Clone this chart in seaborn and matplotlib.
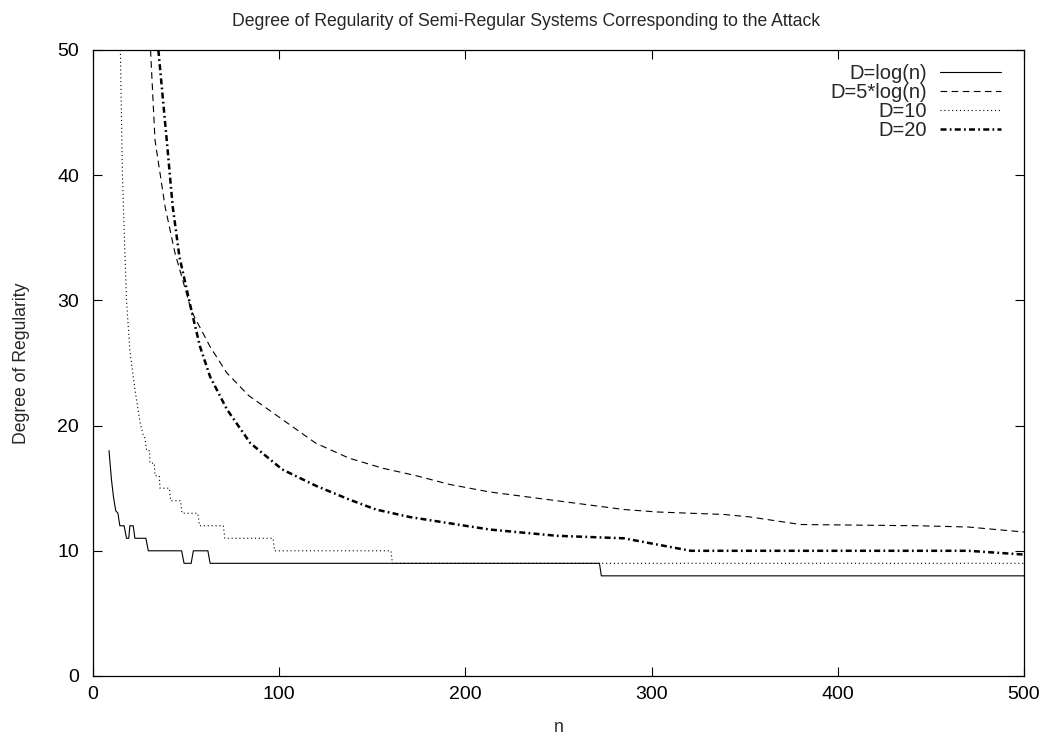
import numpy as np
import pandas as pd
import matplotlib
matplotlib.use("Agg")
import matplotlib.pyplot as plt
import seaborn as sns

# values
log_n = [8.6, 9.9, 11.0, 12.2, 13.4, 14.4, 16.7, 18.0, 19.2, 19.8, 21.6, 22.5, 28.4, 29.7,
         47.6, 48.9, 52.7, 53.9, 61.7, 62.9, 272.0, 273.0, 500.0]
log_y = [18, 15.7, 14.3, 13.2, 13, 12, 12, 11, 11, 12, 12, 11, 11, 10,
         10, 9, 9, 10, 10, 9, 9, 8, 8]

five_log_n = [30.9, 33.3, 38.7, 44.0, 53.0, 62.9, 71.9, 83.6, 101.6, 119.6, 137.5, 155.5,
              173.5, 191.5, 213.0, 249.0, 285.0, 303.0, 339.0, 353.0, 380.0, 443.0, 470.0, 500.0]
five_log_y = [50, 42.8, 37.5, 33.8, 29.1, 26.3, 24.2, 22.4, 20.5, 18.6, 17.4, 16.6,
              16.0, 15.3, 14.7, 14.0, 13.3, 13.1, 12.9, 12.7, 12.1, 12.0, 11.9, 11.5]

d10_n = [14.7, 15.8, 17.1, 18.0, 19.8, 22.5, 25.2, 27.0, 27.9, 28.8, 30.4, 30.6, 32.9, 33.3,
         35.6, 36.0, 41.0, 41.7, 47.0, 47.8, 56.3, 57.2, 70.0, 70.8, 96.7, 97.5, 160.0, 160.8, 500.0]
d10_y = [50, 40, 34, 30, 26, 22.9, 20.3, 19.2, 19, 18, 18, 17, 17, 16,
         16, 15, 15, 14, 14, 13, 13, 12, 12, 11, 11, 10, 10, 9, 9]

d20_n = [35.1, 39.6, 42.8, 46.4, 53.0, 57.5, 62.9, 71.9, 84.5, 101.6, 119.6, 137.5, 151.9,
         170.0, 200.0, 213.0, 249.0, 285.0, 303.0, 321.0, 357.0, 470.0, 500.0]
d20_y = [50, 42.8, 37.5, 33.5, 29.1, 26.3, 23.9, 21.3, 18.6, 16.5, 15.2, 14.1, 13.3,
         12.7, 12.0, 11.7, 11.2, 11.0, 10.5, 10.0, 10.0, 10.0, 9.7]

series = [
    ("D=log(n)", log_n, log_y, dict(lw=0.8)),
    ("D=5*log(n)", five_log_n, five_log_y, dict(lw=0.8, dashes=(6, 4))),
    ("D=10", d10_n, d10_y, dict(lw=0.8, dashes=(1, 2.5))),
    ("D=20", d20_n, d20_y, dict(lw=1.8, dashes=(2.4, 1.3, 0.7, 1.3))),
]

sns.set_style("ticks")
plt.rcParams["font.family"] = ["Liberation Sans", "DejaVu Sans"]

W, H = 1053, 738
fig = plt.figure(figsize=(W / 100, H / 100), dpi=100)
# plot box: left 93px, right 1024px, top 50px, bottom 676px
ax = fig.add_axes([93 / W, (H - 676) / H, 931 / W, 626 / H])

for name, xs, ys, style in series:
    df = pd.DataFrame({"n": xs, "deg": ys})
    sns.lineplot(data=df, x="n", y="deg", ax=ax, color="black", sort=False,
                 estimator=None, label=name, **style)

ax.set_xlim(0, 500)
ax.set_ylim(0, 50)
ax.set_xticks(np.arange(0, 501, 100))
ax.set_yticks(np.arange(0, 51, 10))
ax.tick_params(direction="in", length=6.5, width=0.8, top=True, right=True,
               labelsize=14, colors="black")
ax.tick_params(axis="x", pad=7)
ax.tick_params(axis="y", pad=10)
for sp in ax.spines.values():
    sp.set_linewidth(0.9)
    sp.set_color("black")

fig.suptitle("Degree of Regularity of Semi-Regular Systems Corresponding to the Attack",
             x=0.5, y=1 - 21 / H, va="center", fontsize=12.7)
ax.set_xlabel("n", fontsize=12.7)
ax.xaxis.set_label_coords(0.5, -0.068)
ax.set_ylabel("Degree of Regularity", fontsize=12.7)
ax.yaxis.set_label_coords(-0.068, 0.5)

leg = ax.legend(loc="upper right", bbox_to_anchor=(0.975, 0.978), frameon=False,
                markerfirst=False, fontsize=14.5, handlelength=3.0, handletextpad=0.65,
                labelspacing=0.0, borderpad=0, borderaxespad=0)
for col in leg._legend_box._children[-1]._children:
    col.align = "right"

fig.savefig("out.png", dpi=100)
